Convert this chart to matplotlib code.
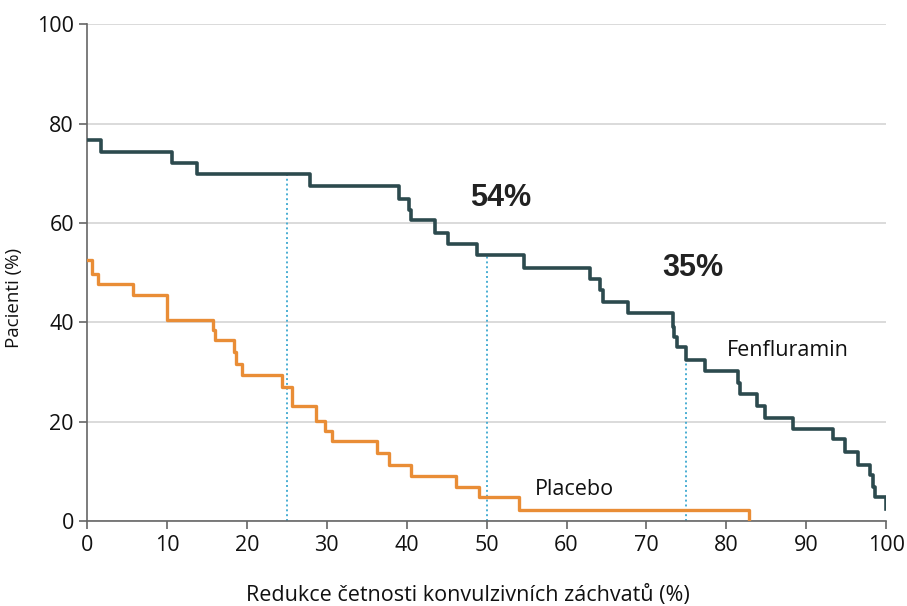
import numpy as np
import matplotlib
matplotlib.use("Agg")
import matplotlib.pyplot as plt

# --- data ---
fen_x = [0, 1.7, 10.6, 13.7, 27.9, 39.0, 40.3, 40.6, 43.6, 45.2, 48.8, 54.7,
         62.9, 64.2, 64.6, 67.7, 73.3, 73.5, 73.8, 74.9, 77.3, 81.4, 81.7,
         83.9, 84.9, 88.4, 93.4, 94.8, 96.5, 98.0, 98.4, 98.6, 100]
fen_y = [76.7, 74.3, 72.0, 69.8, 67.5, 64.9, 62.7, 60.6, 58.0, 55.7, 53.5, 51.0,
         48.8, 46.5, 44.1, 41.9, 39.1, 37.1, 35.1, 32.4, 30.2, 27.8, 25.5,
         23.1, 20.7, 18.5, 16.6, 13.9, 11.4, 9.3, 6.9, 4.8, 2.4]

pla_x = [0, 0.6, 1.4, 5.8, 10.0, 15.8, 16.0, 18.4, 18.6, 19.4, 24.4, 25.7,
         28.7, 29.8, 30.6, 36.3, 37.8, 40.6, 46.2, 49.1, 54.1, 82.9]
pla_y = [52.5, 49.7, 47.7, 45.5, 40.4, 38.4, 36.4, 34.1, 31.7, 29.4, 27.0, 23.1,
         20.2, 18.2, 16.1, 13.7, 11.3, 9.1, 6.9, 4.8, 2.2, 0]

ref_x = [25, 50, 75]
annot_text = ["54%", "35%"]
annot_pos = [(51.7, 65.0), (75.8, 50.9)]

c_fen = "#2c4a4e"
c_pla = "#e98d36"
c_dot = "#4aaed3"

plt.rcParams['font.family'] = ['Open Sans', 'DejaVu Sans']

fig = plt.figure(figsize=(9.07, 6.06), dpi=100)
ax = fig.add_axes([0.096, 0.140, 0.881, 0.820])

# grid
ax.set_yticks([0, 20, 40, 60, 80, 100])
ax.set_xticks(np.arange(0, 101, 10))
ax.yaxis.grid(True, color="#d4d4d4", lw=1.2)
ax.set_axisbelow(True)

# dotted reference lines up to fenfluramin curve
for rx in ref_x:
    idx = np.searchsorted(fen_x, rx, side="right") - 1
    ax.plot([rx, rx], [0, fen_y[idx]], ls=(0, (1, 1.5)), color=c_dot, lw=1.4, zorder=2)

ax.step(pla_x, pla_y, where="post", color=c_pla, lw=2.4, zorder=3)
ax.step(fen_x, fen_y, where="post", color=c_fen, lw=2.6, zorder=4)

for t, (tx, ty) in zip(annot_text, annot_pos):
    ax.text(tx, ty, t, ha="center", va="center", fontsize=22, fontweight="bold",
            color="#222222", family=["Liberation Sans", "DejaVu Sans"])

ax.text(80.1, 34.4, "Fenfluramin", ha="left", va="center", fontsize=15.5, color="#111111")
ax.text(56.1, 6.4, "Placebo", ha="left", va="center", fontsize=15.5, color="#111111")

ax.set_xlim(0, 100)
ax.set_ylim(0, 100)
ax.margins(0)
for s in ["top", "right"]:
    ax.spines[s].set_visible(False)
for s in ["left", "bottom"]:
    ax.spines[s].set_color("#666666")
    ax.spines[s].set_linewidth(1.2)
ax.tick_params(axis="both", colors="#666666", length=6, width=1.2, labelsize=15.5,
               labelcolor="#111111")
ax.tick_params(axis="x", pad=4)

ax.set_xlabel("Redukce četnosti konvulzivních záchvatů (%)", fontsize=15.5, color="#111111",
              va="center")
ax.xaxis.set_label_coords(0.477, -0.150)
ax.set_ylabel("Pacienti (%)", fontsize=13.5, color="#111111", va="center")
ax.yaxis.set_label_coords(-0.091, 0.45)

fig.savefig("out.png", dpi=100)
